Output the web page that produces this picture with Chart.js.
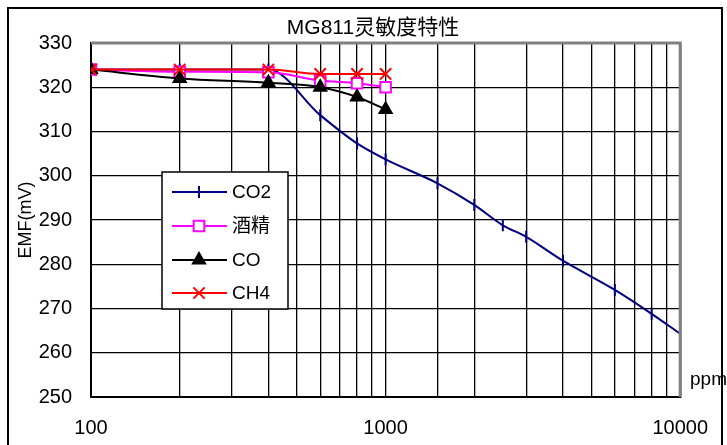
<!DOCTYPE html>
<html>
<head>
<meta charset="utf-8">
<script src="https://cdn.jsdelivr.net/npm/chart.js@4/dist/chart.umd.min.js"></script>
<style>
  html, body { margin: 0; padding: 0; background: #fff; }
  #wrap { width: 727px; height: 445px; }
</style>
</head>
<body>
<div id="wrap"><canvas id="c" width="727" height="445"></canvas></div>
<script>
const titleText = 'MG811灵敏度特性';
const yTitle = 'EMF(mV)';
const xUnit = 'ppm';
const xLabels = [100, 1000, 10000];

const co2Ppm = [100, 200, 400, 600, 800, 1000, 1500, 2000, 2500, 3000, 4000, 6000, 8000, 10000];
const co2Emf = [324, 324, 324, 313.7, 307.3, 303.7, 298.3, 293.4, 288.8, 286.2, 280.8, 274.2, 268.8, 264.3];

const gasPpm = [100, 200, 400, 600, 800, 1000];
const alcoholEmf = [324, 323.5, 323.4, 321.5, 320.9, 320];
const coEmf = [324, 322, 321, 320, 317.8, 315];
const ch4Emf = [324, 324, 324, 323, 323, 323];

const FONT = "'Liberation Sans', Arial, 'Noto Sans CJK SC', sans-serif";

const pts = (xs, ys) => xs.map((x, i) => ({ x, y: ys[i] }));

function series(label, xs, ys, color, style, extra) {
  return Object.assign({
    label,
    data: pts(xs, ys),
    borderColor: color,
    backgroundColor: color,
    pointBorderColor: color,
    pointBackgroundColor: color,
    pointStyle: style,
    pointRadius: 7,
    pointBorderWidth: 2,
    borderWidth: 2,
    cubicInterpolationMode: 'monotone',
  }, extra);
}

const datasets = [
  series('CO2', co2Ppm, co2Emf, '#000080', 'line', { pointRotation: 90, pointRadius: 6, order: 3 }),
  series('酒精', gasPpm, alcoholEmf, '#ff00ff', 'rect', { pointBackgroundColor: '#fff', pointRadius: 7.5, order: 2 }),
  series('CO', gasPpm, coEmf, '#000000', 'triangle', { order: 1 }),
  series('CH4', gasPpm, ch4Emf, '#ff0000', 'crossRot', { pointRadius: 8, order: 0 }),
];

// frame, title, unit label and the boxed legend inside the plot
const decor = {
  id: 'decor',
  afterDraw(chart) {
    const ctx = chart.ctx;
    const a = chart.chartArea;
    ctx.save();
    // top/right plot border (grey)
    ctx.strokeStyle = '#808080';
    ctx.lineWidth = 3;
    ctx.beginPath();
    ctx.moveTo(a.left, a.top);
    ctx.lineTo(a.right, a.top);
    ctx.lineTo(a.right, a.bottom);
    ctx.stroke();
    // outer frame
    ctx.strokeStyle = '#000';
    ctx.lineWidth = 2;
    ctx.strokeRect(8, 8, 714, 446);

    ctx.fillStyle = '#000';
    ctx.font = '21px ' + FONT;
    ctx.textAlign = 'center';
    ctx.textBaseline = 'middle';
    ctx.fillText(titleText, 373, 28);

    ctx.font = '19px ' + FONT;
    ctx.textAlign = 'left';
    ctx.fillText(xUnit, 690, 380);

    // legend
    const lx = 162, ly = 172, lw = 126, lh = 137;
    ctx.fillStyle = '#fff';
    ctx.fillRect(lx, ly, lw, lh);
    ctx.strokeStyle = '#000';
    ctx.lineWidth = 1.5;
    ctx.strokeRect(lx, ly, lw, lh);
    const rows = [192, 226, 260, 293];
    datasets.forEach((ds, i) => {
      const y = rows[i];
      ctx.strokeStyle = ds.borderColor;
      ctx.lineWidth = 2;
      ctx.beginPath();
      ctx.moveTo(172, y);
      ctx.lineTo(227, y);
      ctx.stroke();
      ctx.fillStyle = ds.pointBackgroundColor;
      ctx.strokeStyle = ds.pointBorderColor;
      Chart.helpers.drawPoint(ctx, {
        pointStyle: ds.pointStyle,
        rotation: ds.pointRotation || 0,
        radius: ds.pointRadius,
        borderWidth: 2,
      }, 199, y);
      ctx.fillStyle = '#000';
      ctx.font = '19px ' + FONT;
      ctx.textAlign = 'left';
      ctx.textBaseline = 'middle';
      ctx.fillText(ds.label, 232, y + 1);
    });
    ctx.restore();
  },
};

new Chart(document.getElementById('c'), {
  type: 'line',
  data: { datasets },
  plugins: [decor],
  options: {
    responsive: false,
    animation: false,
    layout: { padding: { top: 43, right: 46, left: 0, bottom: 0 } },
    plugins: {
      legend: { display: false },
      tooltip: { enabled: false },
    },
    scales: {
      x: {
        type: 'logarithmic',
        min: 100,
        max: 10000,
        afterFit: (s) => { s.height = 48; },
        grid: { color: '#000', lineWidth: 1.3, drawTicks: false },
        border: { color: '#000', width: 2 },
        ticks: {
          autoSkip: false,
          maxRotation: 0,
          padding: 19,
          color: '#000',
          font: { size: 20, family: FONT },
          callback: (v) => (xLabels.includes(v) ? String(v) : ''),
        },
      },
      y: {
        min: 250,
        max: 330,
        afterFit: (s) => { s.width = 91; },
        grid: { color: '#000', lineWidth: 1.3, drawTicks: false },
        border: { color: '#000', width: 2 },
        ticks: {
          stepSize: 10,
          padding: 19,
          color: '#000',
          font: { size: 20, family: FONT },
        },
        title: {
          display: true,
          text: yTitle,
          color: '#000',
          padding: { top: 15, bottom: 0 },
          font: { size: 18, family: FONT },
        },
      },
    },
  },
});
</script>
</body>
</html>
